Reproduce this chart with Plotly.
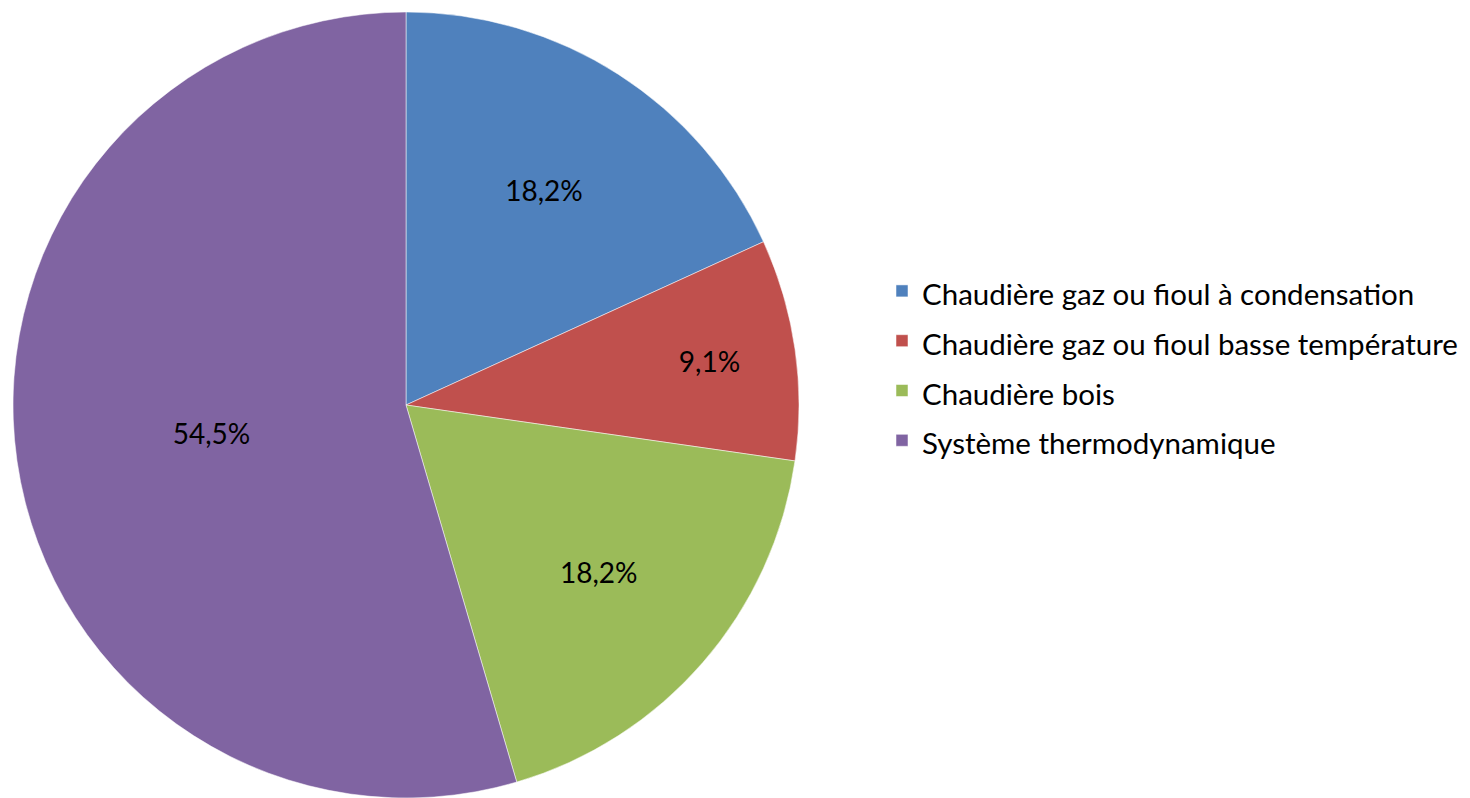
import plotly.graph_objects as go

labels = ["Chaudière gaz ou fioul à condensation",
          "Chaudière gaz ou fioul basse température",
          "Chaudière bois",
          "Système thermodynamique"]
values = [2, 1, 2, 6]
pct_text = ["18,2%", "9,1%", "18,2%", "54,5%"]
colors = ["#4F81BD", "#C0504D", "#9BBB59", "#8064A2"]

# legend rows are spaced by the legend font size; the visible label size is set per label
legend_labels = [f"<span style='font-size:29.5px'>{l}</span>" for l in labels]

W, H = 1470, 798
fig = go.Figure(go.Pie(
    labels=legend_labels, values=values, text=pct_text,
    textinfo="text", textposition="inside", insidetextorientation="horizontal",
    sort=False, direction="clockwise", rotation=0,
    marker=dict(colors=colors, line=dict(color="rgba(255,255,255,0.5)", width=1)),
    textfont=dict(family="Lato, Open Sans, sans-serif", size=28, color="black"),
    domain=dict(x=[13 / W, 799 / W], y=[0, 1 - 12 / H]),
    hoverinfo="label+text",
))
fig.update_layout(
    width=W, height=H,
    margin=dict(l=0, r=0, t=0, b=0),
    paper_bgcolor="white",
    showlegend=True,
    legend=dict(x=882 / W, xanchor="left", y=1 - 366 / H, yanchor="middle",
                font=dict(family="Lato, Open Sans, sans-serif", size=36, color="black"),
                itemwidth=30, tracegroupgap=0),
)
fig.write_html("out.html", config={"displayModeBar": False},
               post_script="document.body.style.margin='0';document.body.style.overflow='hidden';")
